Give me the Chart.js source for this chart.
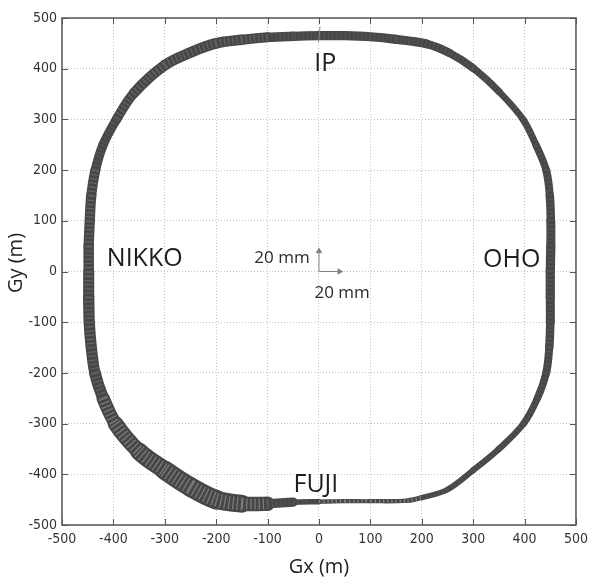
<!DOCTYPE html>
<html>
<head>
<meta charset="utf-8">
<script src="https://cdn.jsdelivr.net/npm/chart.js@4.4.1/dist/chart.umd.min.js"></script>
<style>
  body { margin: 0; background: #fff; }
  #wrap { width: 594px; height: 582px; }
</style>
</head>
<body>
<div id="wrap"><canvas id="ringChart"></canvas></div>
<script>
// ring centre line (m), counter-clockwise from OHO, last point closes the loop
const ringX = [450, 451, 451, 449, 442, 422, 397, 350, 300, 254, 209, 150, 100, 50, 0, -50,
  -100, -150, -200, -250, -300, -360, -394, -420, -435, -443, -446, -448, -448, -448, -447,
  -443, -436, -420, -396, -350, -300, -250, -200, -150, -100, -50, 0, 50, 100, 172, 200,
  250, 300, 350, 398, 425, 442, 448, 450, 450, 450];
const ringY = [0, 50, 100, 150, 200, 250, 300, 355, 401, 431, 449, 458, 463, 465, 465, 464,
  462, 457, 450, 432, 407, 352, 300, 250, 200, 150, 100, 50, 0, -50, -100, -150, -200,
  -250, -300, -355, -392, -425, -450, -458, -458, -455, -454, -453, -453, -452, -446,
  -430, -392, -350, -300, -250, -200, -150, -100, -50, 0];
// spread of the displacement vectors around the centre line (m)
const ringWidth = [18, 18, 17, 16, 15, 14, 13, 13, 15, 16, 17, 18, 18, 18, 18, 18,
  19, 20, 21, 21, 21, 20, 18, 18, 19, 20, 20, 20, 21, 22, 22, 22, 22, 24, 28, 33, 37,
  39, 38, 32, 24, 12, 9, 8, 8, 9, 10, 11, 12, 12, 13, 14, 15, 16, 17, 18, 18];

// IP marker across the ring
const ipMarkX = [2, -1];
const ipMarkY = [483, 452];

// 20 mm scale vectors
const arrowUpX = [0, 0];
const arrowUpY = [0, 40];
const arrowRightX = [0, 40];
const arrowRightY = [0, 0];

const siteNames = ["IP", "OHO", "FUJI", "NIKKO"];
const siteX = [12, 375, -6, -339];
const siteY = [410, 23, -421, 24];

const scaleNotes = ["20 mm", "20 mm"];
const scaleNoteX = [-72, 45];
const scaleNoteY = [26, -42];

const axisTicks = [-500, -400, -300, -200, -100, 0, 100, 200, 300, 400, 500];

const toPoints = (xs, ys) => xs.map((x, i) => ({ x: x, y: ys[i] }));

function spread(i, j) {
  return (ringWidth[i] + ringWidth[j]) / 2;
}

function widthPx(chart, i, j) {
  const xs = chart.scales.x;
  return Math.abs(xs.getPixelForValue(spread(i, j)) - xs.getPixelForValue(0));
}

const numFont = { family: "'Liberation Sans Narrow', 'DejaVu Sans Condensed', sans-serif", size: 14 };

// inward ticks, frame and text labels
const framePlugin = {
  id: "frame",
  afterDraw(chart) {
    const { ctx, chartArea: a, scales } = chart;
    ctx.save();
    ctx.strokeStyle = "#555";
    ctx.lineWidth = 1;
    axisTicks.forEach((v) => {
      const px = Math.round(scales.x.getPixelForValue(v)) + 0.5;
      const py = Math.round(scales.y.getPixelForValue(v)) + 0.5;
      ctx.beginPath();
      ctx.moveTo(px, a.bottom); ctx.lineTo(px, a.bottom - 6);
      ctx.moveTo(px, a.top); ctx.lineTo(px, a.top + 6);
      ctx.moveTo(a.left, py); ctx.lineTo(a.left + 6, py);
      ctx.moveTo(a.right, py); ctx.lineTo(a.right - 6, py);
      ctx.stroke();
    });
    ctx.lineWidth = 1.5;
    ctx.strokeRect(a.left, a.top, a.right - a.left, a.bottom - a.top);

    ctx.fillStyle = "#1e1e1e";
    ctx.textAlign = "center";
    ctx.textBaseline = "middle";
    ctx.font = "25px 'Open Sans', sans-serif";
    siteNames.forEach((t, i) => {
      ctx.fillText(t, scales.x.getPixelForValue(siteX[i]), scales.y.getPixelForValue(siteY[i]));
    });
    ctx.fillStyle = "#2a2a2a";
    ctx.font = "17px 'Open Sans', sans-serif";
    scaleNotes.forEach((t, i) => {
      ctx.fillText(t, scales.x.getPixelForValue(scaleNoteX[i]), scales.y.getPixelForValue(scaleNoteY[i]));
    });

    // axis titles
    ctx.fillStyle = "#222";
    ctx.font = "20px 'Open Sans', sans-serif";
    ctx.fillText("Gx (m)", (a.left + a.right) / 2, 567);
    ctx.translate(16, 263);
    ctx.rotate(-Math.PI / 2);
    ctx.fillText("Gy (m)", 0, 0);
    ctx.restore();
  },
};

const arrowStyle = {
  showLine: true,
  borderColor: "#808080",
  backgroundColor: "#808080",
  borderWidth: 1,
  pointStyle: "triangle",
  pointRadius: [0, 3],
  order: 0,
};

new Chart(document.getElementById("ringChart"), {
  type: "scatter",
  data: {
    datasets: [
      {
        label: "ring",
        order: 3,
        data: toPoints(ringX, ringY),
        showLine: true,
        tension: 0.35,
        pointRadius: 0,
        borderColor: "#474747",
        borderCapStyle: "round",
        borderJoinStyle: "round",
        segment: {
          borderWidth: (c) => widthPx(c.chart, c.p0DataIndex, c.p1DataIndex),
        },
      },
      {
        // light gaps between the individual vectors
        label: "streaks",
        order: 2,
        data: toPoints(ringX, ringY),
        showLine: true,
        tension: 0.35,
        pointRadius: 0,
        borderDash: [1.2, 3],
        borderCapStyle: "butt",
        segment: {
          borderWidth: (c) => widthPx(c.chart, c.p0DataIndex, c.p1DataIndex) * 0.75,
          borderColor: (c) => {
            const w = spread(c.p0DataIndex, c.p1DataIndex);
            let alpha = 0.08;
            if (w >= 24) alpha = 0.3;
            else if (w >= 19) alpha = 0.16;
            else if (w <= 10) alpha = 0.35;
            return "rgba(255,255,255," + alpha + ")";
          },
        },
      },
      {
        label: "IP",
        order: 1,
        data: toPoints(ipMarkX, ipMarkY),
        showLine: true,
        pointRadius: 0,
        borderColor: "#8a8a8a",
        borderWidth: 1,
      },
      Object.assign({ label: "up", data: toPoints(arrowUpX, arrowUpY), pointRotation: [0, 0] }, arrowStyle),
      Object.assign({ label: "right", data: toPoints(arrowRightX, arrowRightY), pointRotation: [0, 90] }, arrowStyle),
    ],
  },
  options: {
    responsive: true,
    maintainAspectRatio: false,
    animation: false,
    layout: { padding: { top: 18, right: 13, bottom: 0, left: 0 } },
    plugins: {
      legend: { display: false },
      tooltip: { enabled: false },
    },
    scales: {
      x: {
        type: "linear",
        min: -500,
        max: 500,
        afterFit: (s) => { s.height = 57; },
        afterBuildTicks: (s) => { s.ticks = axisTicks.map((v) => ({ value: v })); },
        grid: { color: "#c4c4c4", drawTicks: false, lineWidth: 1 },
        border: { display: false, dash: [1, 2] },
        ticks: { color: "#333", font: numFont, padding: 6, maxRotation: 0 },
      },
      y: {
        type: "linear",
        min: -500,
        max: 500,
        afterFit: (s) => { s.width = 62; },
        afterBuildTicks: (s) => { s.ticks = axisTicks.map((v) => ({ value: v })); },
        grid: { color: "#c4c4c4", drawTicks: false, lineWidth: 1 },
        border: { display: false, dash: [1, 2] },
        ticks: { color: "#333", font: numFont, padding: 5 },
      },
    },
  },
  plugins: [framePlugin],
});
</script>
</body>
</html>
